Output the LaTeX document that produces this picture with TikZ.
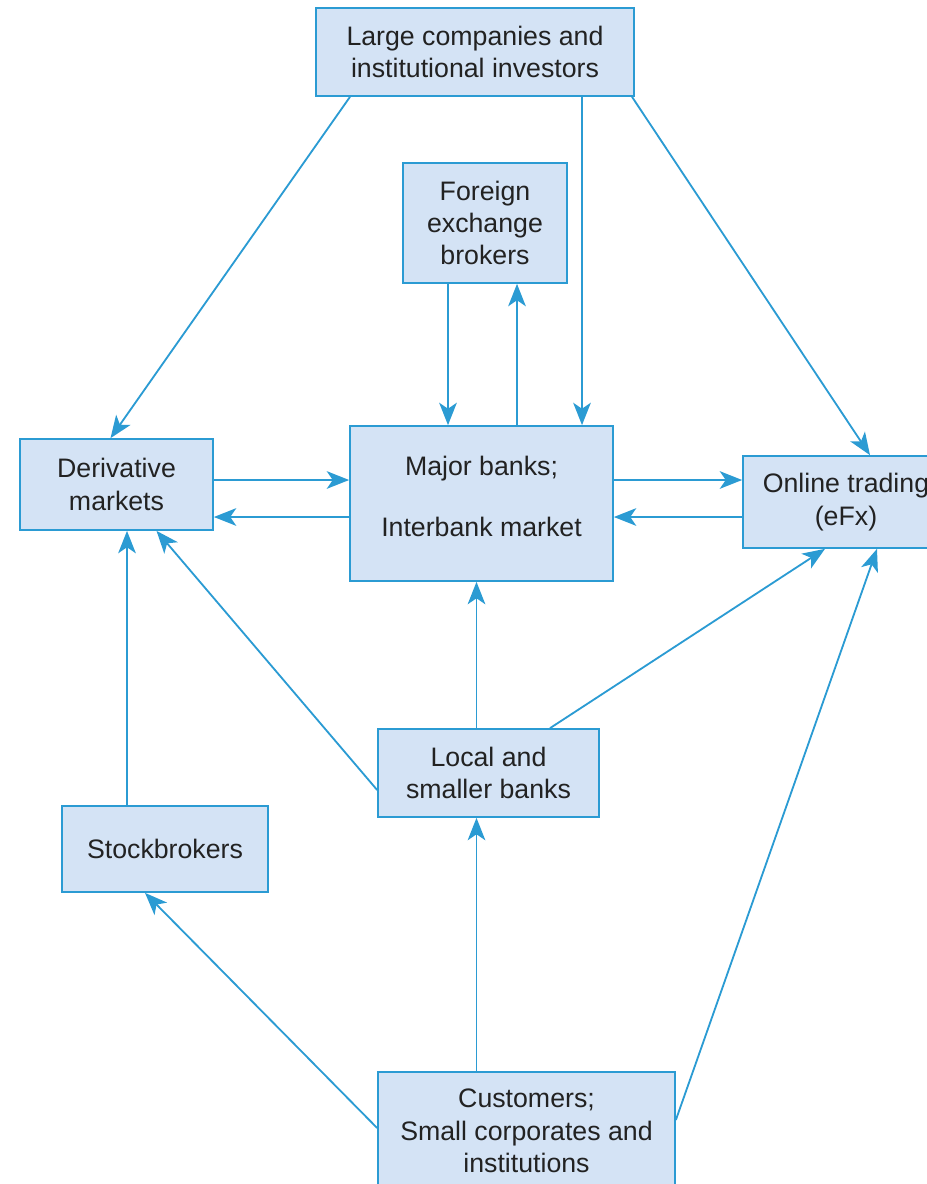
\documentclass[tikz,border=0pt]{standalone}
\usepackage{fontspec}
\setmainfont{Liberation Sans}
\usetikzlibrary{arrows.meta,calc}

\definecolor{boxfill}{HTML}{D4E3F5}
\definecolor{boxline}{HTML}{2B9BD3}
\definecolor{boxtext}{HTML}{222222}

\begin{document}
\begin{tikzpicture}[x=0.025cm,y=-0.025cm,
        box/.style={draw=boxline,fill=boxfill,line width=1.2pt,inner sep=0pt,
            text=boxtext,align=center,font=\fontsize{19}{23}\selectfont},
        link/.style={draw=boxline,line width=1.3pt,
            -{Stealth[length=5.6mm,width=4.4mm,inset=1.5mm]}}
    ]
        \useasboundingbox (0,0) rectangle (927,1184);

        \node [box,minimum width=318*0.025cm,minimum height=88*0.025cm] (large) at (475,52)
            {Large companies and\\institutional investors};
        \node [box,minimum width=164*0.025cm,minimum height=120*0.025cm] (forex) at (485,223)
            {Foreign\\exchange\\brokers};
        \node [box,minimum width=193*0.025cm,minimum height=91*0.025cm] (deriv) at (116.5,484.5)
            {Derivative\\markets};
        \node [box,minimum width=263*0.025cm,minimum height=155*0.025cm,text depth=10pt] (major) at (481.5,503.5)
            {Major banks;\\[20pt]Interbank market};
        \node [box,minimum width=206*0.025cm,minimum height=92*0.025cm] (online) at (846,502)
            {Online trading\\(eFx)};
        \node [box,minimum width=221*0.025cm,minimum height=88*0.025cm] (local) at (488.5,773)
            {Local and\\smaller banks};
        \node [box,minimum width=206*0.025cm,minimum height=86*0.025cm] (stock) at (165,849)
            {Stockbrokers};
        \node [box,minimum width=297*0.025cm,minimum height=118*0.025cm] (cust) at (526.5,1131)
            {Customers;\\Small corporates and\\institutions};

        % from the top
        \draw [link] ($(large.south)+(-125,0)$) -- ($(deriv.north)+(-6,0)$);
        \draw [link] ($(large.south)+(107,0)$) coordinate (l1) -- (l1 |- major.north);
        \draw [link] ($(large.south)+(157,0)$) -- ($(online.north)+(24,0)$);

        % brokers and major banks
        \draw [link] ($(forex.south)+(-37,0)$) coordinate (f1) -- (f1 |- major.north);
        \draw [link] ($(major.north)+(35.5,0)$) coordinate (m1) -- (m1 |- forex.south);

        % side markets
        \draw [link] ($(deriv.east)+(0,-4.5)$) coordinate (d1) -- (d1 -| major.west);
        \draw [link] ($(major.west)+(0,13.5)$) coordinate (m2) -- (m2 -| deriv.east);
        \draw [link] ($(major.east)+(0,-23.5)$) coordinate (m3) -- (m3 -| online.west);
        \draw [link] ($(online.west)+(0,15)$) coordinate (o1) -- (o1 -| major.east);

        % lower half
        \draw [link] ($(stock.north)+(-38,0)$) coordinate (s1) -- (s1 |- deriv.south);
        \draw [link] ($(local.west)+(0,17)$) -- ($(deriv.south)+(40,0)$);
        \draw [link] ($(local.north)+(-12,0)$) coordinate (b1) -- (b1 |- major.south);
        \draw [link] ($(local.north)+(61.5,0)$) -- ($(online.south)+(-21,0)$);
        \draw [link] (cust.north -| b1) -- (b1 |- local.south);
        \draw [link] ($(cust.west)+(0,-3)$) -- ($(stock.south)+(-20,0)$);
        \draw [link] ($(cust.east)+(0,-11)$) -- ($(online.south)+(31,0)$);
\end{tikzpicture}
\end{document}
